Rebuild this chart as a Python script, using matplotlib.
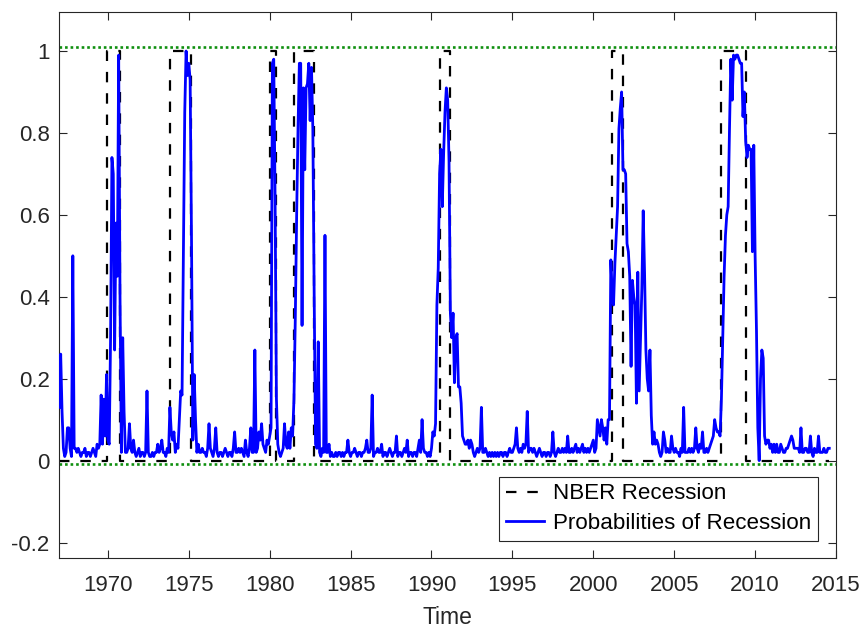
import numpy as np
import matplotlib
matplotlib.use("Agg")
import matplotlib.pyplot as plt

plt.rcParams['font.family'] = ['Liberation Sans', 'DejaVu Sans']

# ---------------- data ----------------
start_year = 1967.0  # monthly data, first observation Jan 1967

prob_1967_1974 = [
    0.13, 0.26, 0.12, 0.03, 0.01, 0.02, 0.08, 0.08, 0.03, 0.01, 0.50, 0.03,   # 1967
    0.03, 0.02, 0.03, 0.02, 0.01, 0.02, 0.02, 0.03, 0.01, 0.02, 0.02, 0.01,   # 1968
    0.02, 0.03, 0.02, 0.01, 0.04, 0.03, 0.04, 0.16, 0.04, 0.15, 0.06, 0.21,   # 1969
    0.05, 0.04, 0.30, 0.74, 0.70, 0.27, 0.58, 0.45, 0.99, 0.40, 0.02, 0.30,   # 1970
    0.12, 0.02, 0.02, 0.03, 0.09, 0.03, 0.02, 0.05, 0.02, 0.01, 0.02, 0.03,   # 1971
    0.01, 0.02, 0.02, 0.01, 0.02, 0.17, 0.02, 0.01, 0.01, 0.02, 0.01, 0.02,   # 1972
    0.02, 0.04, 0.02, 0.03, 0.05, 0.02, 0.02, 0.01, 0.03, 0.02, 0.13, 0.07,   # 1973
    0.05, 0.07, 0.02, 0.04, 0.03, 0.10, 0.17, 0.16, 0.50, 0.85, 1.00, 0.94,   # 1974
]
prob_1975_1984 = [
    0.97, 0.93, 0.55, 0.05, 0.21, 0.10, 0.02, 0.04, 0.02, 0.02, 0.03, 0.02,   # 1975
    0.02, 0.01, 0.03, 0.09, 0.03, 0.02, 0.01, 0.03, 0.08, 0.02, 0.01, 0.02,   # 1976
    0.02, 0.01, 0.02, 0.03, 0.02, 0.01, 0.02, 0.02, 0.01, 0.03, 0.07, 0.02,   # 1977
    0.02, 0.03, 0.02, 0.03, 0.02, 0.01, 0.05, 0.02, 0.01, 0.03, 0.08, 0.02,   # 1978
    0.02, 0.27, 0.02, 0.03, 0.07, 0.05, 0.09, 0.04, 0.03, 0.02, 0.05, 0.04,   # 1979
    0.06, 0.08, 0.97, 0.98, 0.64, 0.15, 0.04, 0.02, 0.01, 0.02, 0.03, 0.09,   # 1980
    0.04, 0.03, 0.07, 0.03, 0.08, 0.06, 0.15, 0.35, 0.60, 0.81, 0.97, 0.97,   # 1981
    0.33, 0.91, 0.71, 0.91, 0.92, 0.97, 0.83, 0.96, 0.81, 0.40, 0.04, 0.03,   # 1982
    0.29, 0.02, 0.01, 0.03, 0.02, 0.55, 0.02, 0.02, 0.04, 0.01, 0.02, 0.01,   # 1983
    0.01, 0.02, 0.01, 0.02, 0.02, 0.01, 0.02, 0.01, 0.02, 0.02, 0.05, 0.02,   # 1984
]
prob_1985_1994 = [
    0.01, 0.02, 0.02, 0.03, 0.02, 0.01, 0.02, 0.02, 0.01, 0.02, 0.02, 0.03,   # 1985
    0.05, 0.02, 0.02, 0.03, 0.16, 0.01, 0.02, 0.02, 0.03, 0.02, 0.02, 0.04,   # 1986
    0.01, 0.02, 0.02, 0.01, 0.02, 0.03, 0.02, 0.01, 0.02, 0.02, 0.06, 0.01,   # 1987
    0.02, 0.02, 0.01, 0.02, 0.03, 0.02, 0.05, 0.01, 0.02, 0.02, 0.01, 0.02,   # 1988
    0.02, 0.01, 0.03, 0.05, 0.02, 0.10, 0.03, 0.02, 0.02, 0.01, 0.02, 0.01,   # 1989
    0.03, 0.07, 0.06, 0.09, 0.38, 0.47, 0.70, 0.76, 0.62, 0.75, 0.85, 0.91,   # 1990
    0.88, 0.73, 0.36, 0.30, 0.36, 0.19, 0.30, 0.31, 0.18, 0.18, 0.14, 0.06,   # 1991
    0.05, 0.04, 0.04, 0.05, 0.03, 0.05, 0.04, 0.02, 0.01, 0.02, 0.03, 0.02,   # 1992
    0.03, 0.13, 0.02, 0.02, 0.03, 0.02, 0.01, 0.02, 0.01, 0.02, 0.01, 0.02,   # 1993
    0.01, 0.02, 0.01, 0.02, 0.02, 0.01, 0.02, 0.02, 0.01, 0.02, 0.03, 0.02,   # 1994
]
prob_1995_2004 = [
    0.02, 0.03, 0.04, 0.08, 0.03, 0.02, 0.03, 0.02, 0.04, 0.03, 0.04, 0.12,   # 1995
    0.02, 0.03, 0.03, 0.02, 0.03, 0.02, 0.01, 0.02, 0.03, 0.02, 0.01, 0.02,   # 1996
    0.02, 0.01, 0.02, 0.02, 0.01, 0.02, 0.07, 0.02, 0.01, 0.02, 0.03, 0.02,   # 1997
    0.02, 0.03, 0.02, 0.03, 0.02, 0.06, 0.02, 0.02, 0.03, 0.02, 0.03, 0.04,   # 1998
    0.02, 0.03, 0.02, 0.03, 0.04, 0.02, 0.03, 0.02, 0.03, 0.02, 0.03, 0.04,   # 1999
    0.05, 0.02, 0.03, 0.10, 0.08, 0.06, 0.10, 0.08, 0.05, 0.08, 0.04, 0.10,   # 2000
    0.10, 0.49, 0.40, 0.38, 0.48, 0.55, 0.62, 0.81, 0.86, 0.90, 0.71, 0.71,   # 2001
    0.70, 0.53, 0.51, 0.45, 0.23, 0.44, 0.40, 0.38, 0.14, 0.46, 0.17, 0.30,   # 2002
    0.42, 0.61, 0.46, 0.27, 0.20, 0.17, 0.27, 0.11, 0.04, 0.07, 0.04, 0.05,   # 2003
    0.04, 0.02, 0.01, 0.02, 0.07, 0.05, 0.02, 0.03, 0.02, 0.02, 0.06, 0.03,   # 2004
]
prob_2005_2014 = [
    0.02, 0.03, 0.02, 0.02, 0.01, 0.03, 0.02, 0.13, 0.02, 0.02, 0.02, 0.03,   # 2005
    0.02, 0.03, 0.02, 0.03, 0.08, 0.03, 0.02, 0.04, 0.03, 0.07, 0.02, 0.02,   # 2006
    0.03, 0.02, 0.03, 0.04, 0.05, 0.06, 0.10, 0.08, 0.07, 0.07, 0.06, 0.15,   # 2007
    0.30, 0.45, 0.55, 0.60, 0.62, 0.81, 0.98, 0.88, 0.99, 0.98, 0.99, 0.99,   # 2008
    0.98, 0.97, 0.97, 0.84, 0.90, 0.78, 0.74, 0.77, 0.76, 0.76, 0.51, 0.77,   # 2009
    0.50, 0.32, 0.08, 0.00, 0.20, 0.27, 0.25, 0.06, 0.04, 0.05, 0.05, 0.03,   # 2010
    0.04, 0.02, 0.04, 0.02, 0.04, 0.02, 0.02, 0.04, 0.03, 0.02, 0.02, 0.03,   # 2011
    0.03, 0.04, 0.05, 0.06, 0.05, 0.03, 0.03, 0.03, 0.03, 0.02, 0.08, 0.02,   # 2012
    0.02, 0.03, 0.03, 0.02, 0.02, 0.06, 0.02, 0.01, 0.03, 0.02, 0.02, 0.06,   # 2013
    0.02, 0.02, 0.02, 0.03, 0.02, 0.02, 0.03, 0.03,                           # 2014
]

# NBER recession peaks / troughs (decimal years)
nber_start = [1969.92, 1973.83, 1980.00, 1981.50, 1990.50, 2001.17, 2007.92]
nber_end   = [1970.75, 1975.13, 1980.42, 1982.75, 1991.13, 2001.83, 2009.45]

ref_upper = 1.009
ref_lower = -0.008

xticks = [1970, 1975, 1980, 1985, 1990, 1995, 2000, 2005, 2010, 2015]
yticks = [-0.2, 0, 0.2, 0.4, 0.6, 0.8, 1.0]
ytick_labels = ['-0.2', '0', '0.2', '0.4', '0.6', '0.8', '1']

# ---------------- build series ----------------
prob = np.array(prob_1967_1974 + prob_1975_1984 + prob_1985_1994
                + prob_1995_2004 + prob_2005_2014)
t = start_year + np.arange(len(prob)) / 12.0

nx = [t[0]]
ny = [0.0]
for s, e in zip(nber_start, nber_end):
    nx += [s, s, e, e]
    ny += [0, 1, 1, 0]
nx.append(t[-1])
ny.append(0.0)

# ---------------- figure ----------------
fig = plt.figure(figsize=(8.65, 6.28), dpi=100)
ax = fig.add_axes([0.0686, 0.112, 0.8979, 0.8694])

dot_style = (0, (1.0, 1.1))
ax.axhline(ref_upper, color='#0f8f0f', linestyle=dot_style, linewidth=1.9, zorder=1)
ax.axhline(ref_lower, color='#0f8f0f', linestyle=dot_style, linewidth=1.9, zorder=1)

ax.plot(nx, ny, color='black', linestyle=(0, (4.7, 4.9)), linewidth=1.6,
        label='NBER Recession', zorder=2)
ax.plot(t, prob, color='#0000ff', linewidth=2.0, label='Probabilities of Recession', zorder=3)

ax.set_xlim(1967, 2015)
ax.set_ylim(-0.237, 1.096)
ax.set_xticks(xticks)
ax.set_yticks(yticks)
ax.set_yticklabels(ytick_labels)

for sp in ax.spines.values():
    sp.set_color('#262626')
    sp.set_linewidth(0.8)
ax.tick_params(direction='in', length=5.5, width=0.8, color='#262626',
               labelcolor='#262626', labelsize=16, top=True, right=True)
ax.tick_params(axis='x', pad=12.3)
ax.tick_params(axis='y', pad=7)

ax.set_xlabel('Time', fontsize=16.5, color='#262626', labelpad=7.5)

leg = ax.legend(loc='lower right', bbox_to_anchor=(0.9772, 0.0311), borderaxespad=0,
                fontsize=16.1, frameon=True, fancybox=False, framealpha=1,
                edgecolor='#262626', handlelength=1.7, handletextpad=0.42,
                borderpad=0.3, labelspacing=0.38)
leg.get_frame().set_linewidth(0.8)
for txt in leg.get_texts():
    txt.set_color('black')

fig.savefig('out.png', dpi=100)
